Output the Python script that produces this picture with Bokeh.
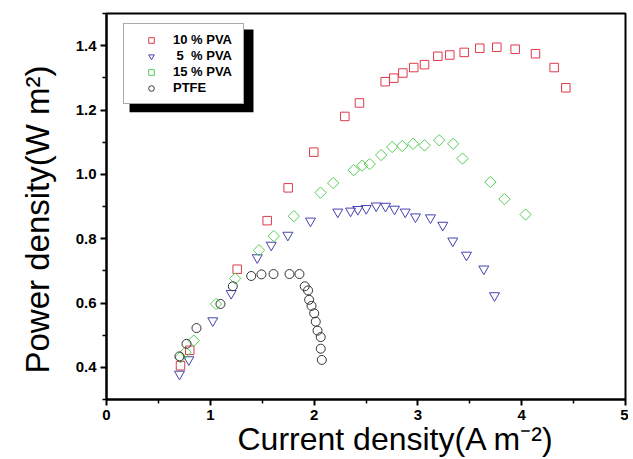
import math
from bokeh.plotting import figure
from bokeh.models import (Legend, LegendItem, FixedTicker, Range1d, BoxAnnotation,
                          Title, PrintfTickFormatter)
from bokeh.embed import file_html
from bokeh.resources import INLINE

# ---------------- data ----------------
pva10_x = [0.713, 0.802, 1.259, 1.548, 1.750, 1.997, 2.296, 2.437, 2.685, 2.768, 2.855,
           2.960, 3.064, 3.192, 3.307, 3.446, 3.596, 3.760, 3.937, 4.133, 4.313, 4.425]
pva10_y = [0.405, 0.453, 0.705, 0.856, 0.958, 1.069, 1.180, 1.222, 1.288, 1.299, 1.315,
           1.332, 1.341, 1.367, 1.371, 1.379, 1.392, 1.395, 1.389, 1.375, 1.332, 1.269]

pva5_x = [0.703, 0.793, 1.024, 1.201, 1.452, 1.587, 1.747, 1.965, 2.228, 2.351, 2.421, 2.502,
          2.598, 2.688, 2.775, 2.878, 2.977, 3.121, 3.240, 3.336, 3.468, 3.635, 3.738]
pva5_y = [0.379, 0.424, 0.545, 0.630, 0.741, 0.780, 0.811, 0.855, 0.883, 0.886, 0.891, 0.894,
          0.902, 0.901, 0.892, 0.883, 0.868, 0.865, 0.842, 0.793, 0.749, 0.706, 0.623]

pva15_x = [0.713, 0.761, 0.841, 1.055, 1.240, 1.469, 1.612, 1.805, 2.062, 2.184, 2.382, 2.463,
           2.536, 2.646, 2.752, 2.849, 2.954, 3.064, 3.205, 3.340, 3.430, 3.699, 3.834, 4.037]
pva15_y = [0.431, 0.447, 0.483, 0.597, 0.676, 0.764, 0.808, 0.870, 0.943, 0.973, 1.013, 1.027,
           1.032, 1.060, 1.085, 1.088, 1.095, 1.090, 1.106, 1.095, 1.049, 0.976, 0.923, 0.875]

ptfe_x = [0.703, 0.771, 0.867, 1.098, 1.217, 1.394, 1.493, 1.609, 1.763, 1.859, 1.910, 1.942,
          1.952, 1.975, 2.001, 2.016, 2.033, 2.064, 2.064, 2.074]
ptfe_y = [0.434, 0.473, 0.522, 0.597, 0.652, 0.684, 0.689, 0.690, 0.690, 0.690, 0.652, 0.639,
          0.610, 0.591, 0.568, 0.542, 0.514, 0.494, 0.458, 0.423]

series_labels = ["10 % PVA", " 5  % PVA", "15 % PVA", "PTFE"]

x_ticks = [0, 1, 2, 3, 4, 5]
x_minor_ticks = [0.5, 1.5, 2.5, 3.5, 4.5]
y_ticks = [0.4, 0.6, 0.8, 1.0, 1.2, 1.4]
y_minor_ticks = [0.3, 0.5, 0.7, 0.9, 1.1, 1.3, 1.5]

x_title = "Current density(A m\u207b\u00b2)"
y_title = "Power density(W m\u00b2)"

# ---------------- styles ----------------
RED = "#dd3a4a"
BLUE = "#4444b0"
GREEN = "#55cc55"
BLACK = "#333333"
FONT = "Liberation Sans"

p = figure(width=628, height=459, output_backend="svg", toolbar_location=None,
           x_range=Range1d(0, 5), y_range=Range1d(0.3, 1.5),
           min_border_left=106, min_border_right=3, min_border_top=13, min_border_bottom=60)

p.grid.visible = False
p.outline_line_color = "black"
p.outline_line_width = 2
p.outline_line_alpha = 1
p.background_fill_color = "white"
p.border_fill_color = "white"

r1 = p.scatter(pva10_x, pva10_y, marker="square", size=8.5, fill_color=None,
               line_color=RED, line_width=1)
r2 = p.scatter(pva5_x, pva5_y, marker="inverted_triangle", size=10, fill_color=None,
               line_color=BLUE, line_width=1)
r3 = p.scatter(pva15_x, pva15_y, marker="square", angle=math.pi / 4, size=8, fill_color=None,
               line_color=GREEN, line_width=1)
r4 = p.scatter(ptfe_x, ptfe_y, marker="circle", size=9, fill_color=None,
               line_color=BLACK, line_width=1)

# axes
p.xaxis.ticker = FixedTicker(ticks=x_ticks, minor_ticks=x_minor_ticks)
p.yaxis.ticker = FixedTicker(ticks=y_ticks, minor_ticks=y_minor_ticks)
p.xaxis.formatter = PrintfTickFormatter(format="%d")
p.yaxis.formatter = PrintfTickFormatter(format="%.1f")

for ax in (p.xaxis[0], p.yaxis[0]):
    ax.axis_line_width = 2
    ax.axis_line_color = "black"
    ax.major_tick_line_width = 2
    ax.major_tick_line_color = "black"
    ax.major_tick_out = 6
    ax.major_tick_in = 0
    ax.minor_tick_line_width = 1.5
    ax.minor_tick_line_color = "black"
    ax.minor_tick_out = 4
    ax.minor_tick_in = 0
    ax.major_label_text_font = FONT
    ax.major_label_text_font_style = "bold"
    ax.major_label_text_font_size = "15px"
    ax.major_label_text_color = "black"

p.xaxis.major_label_standoff = 4
p.yaxis.major_label_standoff = 4

# axis titles
xt = Title(text=x_title, align="left", offset=131, standoff=-7, text_font=FONT,
           text_font_style="normal", text_font_size="32px", text_color="black")
p.add_layout(xt, "below")
yt = Title(text=y_title, align="left", offset=26, standoff=33, text_font=FONT,
           text_font_style="normal", text_font_size="33px", text_color="black")
p.add_layout(yt, "left")

# legend with shadow
shadow = BoxAnnotation(left=0.222, right=1.416, top=1.4505, bottom=1.193,
                       fill_color="black", fill_alpha=1, line_color=None)
p.add_layout(shadow)

legend = Legend(items=[LegendItem(label=series_labels[0], renderers=[r1]),
                       LegendItem(label=series_labels[1], renderers=[r2]),
                       LegendItem(label=series_labels[2], renderers=[r3]),
                       LegendItem(label=series_labels[3], renderers=[r4])],
                location=(17, 295), margin=0, padding=8, spacing=1,
                glyph_width=38, glyph_height=14, label_height=14, label_width=62,
                label_standoff=3,
                label_text_font=FONT, label_text_font_style="bold",
                label_text_font_size="13px", label_text_color="black",
                border_line_color="#555555", border_line_width=1,
                background_fill_color="white", background_fill_alpha=1)
p.add_layout(legend, "center")

open("out.html", "w").write(file_html(p, INLINE))
